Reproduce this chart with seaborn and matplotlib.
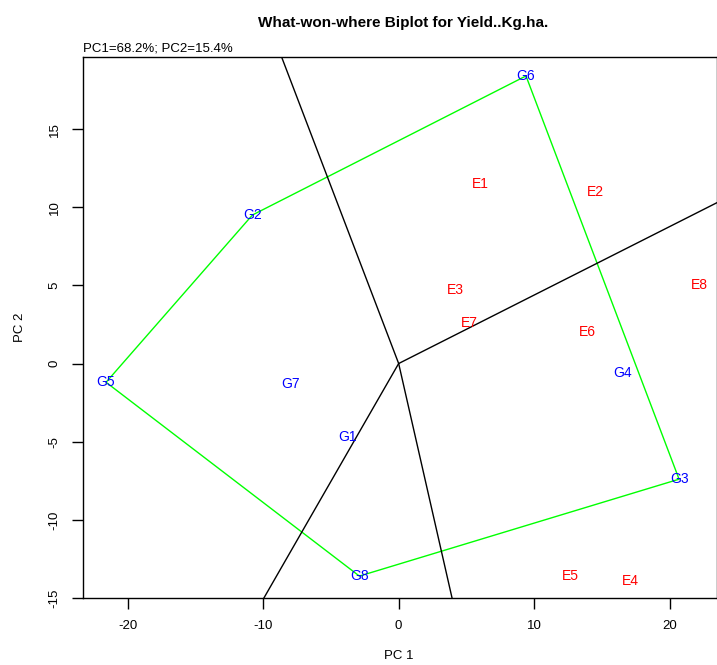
import numpy as np
import pandas as pd
import matplotlib
matplotlib.use("Agg")
import matplotlib.pyplot as plt
import seaborn as sns

# genotype scores (PC1, PC2)
gen_names = ["G1", "G2", "G3", "G4", "G5", "G6", "G7", "G8"]
gen_pc1 = [-3.8, -10.8, 20.7, 16.5, -21.6, 9.4, -8.0, -2.9]
gen_pc2 = [-4.7, 9.5, -7.4, -0.6, -1.2, 18.4, -1.3, -13.6]

# environment scores (PC1, PC2)
env_names = ["E1", "E2", "E3", "E4", "E5", "E6", "E7", "E8"]
env_pc1 = [6.0, 14.5, 4.2, 17.1, 12.7, 13.9, 5.2, 22.2]
env_pc2 = [11.5, 11.0, 4.7, -13.9, -13.6, 2.0, 2.6, 5.0]

# convex hull (vertex genotypes in order)
hull = ["G6", "G3", "G8", "G5", "G2"]

sns.set_theme(style="ticks")
plt.rcParams['font.family'] = ['Liberation Sans', 'DejaVu Sans']
plt.rcParams['axes.unicode_minus'] = False
plt.rcParams['text.color'] = 'black'
plt.rcParams['axes.labelcolor'] = 'black'

GEN = pd.DataFrame({"name": gen_names, "x": gen_pc1, "y": gen_pc2}).set_index("name")
ENV = pd.DataFrame({"name": env_names, "x": env_pc1, "y": env_pc2})

fig = plt.figure(figsize=(7.17, 6.65), dpi=100)
ax = fig.add_axes([0.1158, 0.1008, 0.8842, 0.8132])

#HULL POLYGON
poly = GEN.loc[hull + [hull[0]]].reset_index()
sns.lineplot(data=poly, x="x", y="y", sort=False, color="#00ff00", lw=1, ax=ax, estimator=None)

#RAYS FROM ORIGIN PERPENDICULAR TO HULL EDGES (only when foot falls on the edge)
for i in range(len(hull)):
    a = GEN.loc[hull[i], ["x", "y"]].to_numpy(dtype=float)
    b = GEN.loc[hull[(i + 1) % len(hull)], ["x", "y"]].to_numpy(dtype=float)
    d = b - a
    t = -np.dot(a, d) / np.dot(d, d)
    if 0 <= t <= 1:
        foot = a + t * d
        direc = foot / np.linalg.norm(foot)
        ax.plot([0, direc[0] * 100], [0, direc[1] * 100], color="black", lw=1)

#LABELS
for n, r in GEN.iterrows():
    ax.text(r["x"], r["y"], n, color="blue", fontsize=10, ha="center", va="center")
for _, r in ENV.iterrows():
    ax.text(r["x"], r["y"], r["name"], color="red", fontsize=10, ha="center", va="center")

ax.set_xlim(-23.3, 23.5)
ax.set_ylim(-15.0, 19.6)
ax.set_xticks([-20, -10, 0, 10, 20])
ax.set_yticks([-15, -10, -5, 0, 5, 10, 15])
ax.tick_params(axis="both", length=8, width=1, colors="black", labelsize=9.5, pad=8)
for lab in ax.get_yticklabels():
    lab.set_rotation(90)
    lab.set_va("center")
for s in ax.spines.values():
    s.set_color("black")
    s.set_linewidth(1)

ax.set_xlabel("PC 1", fontsize=9.5)
ax.set_ylabel("PC 2", fontsize=9.5)
ax.xaxis.set_label_coords(0.4985, -0.108)
ax.xaxis.label.set_va("center")
ax.yaxis.set_label_coords(-0.099, 0.5)
ax.yaxis.label.set_va("center")
fig.text(0.562, 0.966, "What-won-where Biplot for Yield..Kg.ha.", fontsize=11, fontweight="bold",
         ha="center", va="center")
ax.text(0.0, 1.005, "PC1=68.2%; PC2=15.4%", transform=ax.transAxes, fontsize=9.5, ha="left", va="bottom")

plt.savefig("out.png", dpi=100)
